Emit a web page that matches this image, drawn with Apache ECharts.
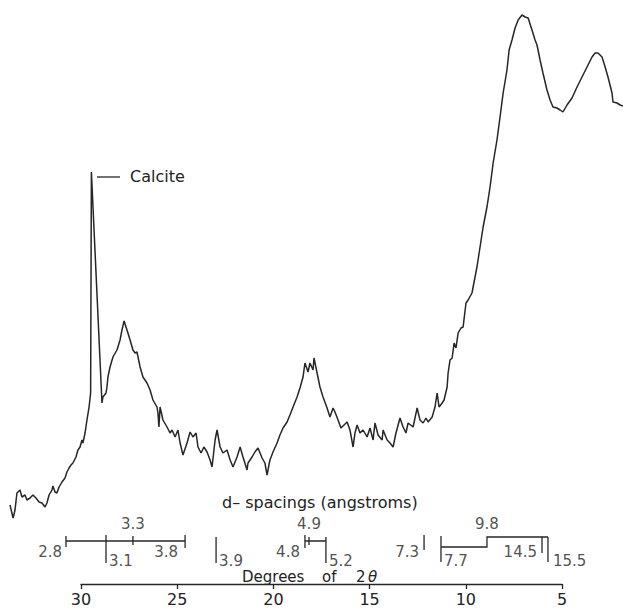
<!DOCTYPE html>
<html>
<head>
<meta charset="utf-8">
<script src="https://cdn.jsdelivr.net/npm/echarts@6/dist/echarts.min.js"></script>
<style>
  html, body { margin: 0; padding: 0; background: #fff; }
  #xrd { width: 623px; height: 608px; }
</style>
</head>
<body>
<div id="xrd"></div>
<script>
// diffractogram trace (degrees 2θ, relative intensity)
var twoTheta = [
    33.69, 33.53, 33.43, 33.33, 33.17, 33.07, 32.91, 32.81, 32.65, 32.50,
    32.34, 32.18, 32.03, 31.87, 31.77, 31.66, 31.51, 31.46, 31.35, 31.25,
    31.14, 30.99, 30.83, 30.73, 30.62, 30.52, 30.42, 30.26, 30.16, 30.05,
    29.95, 29.90, 29.79, 29.69, 29.58, 29.50, 29.46, 28.91, 28.86, 28.70,
    28.65, 28.60, 28.49, 28.34, 28.13, 27.97, 27.87, 27.76, 27.61, 27.45,
    27.30, 27.19, 27.09, 26.93, 26.78, 26.57, 26.41, 26.26, 26.05, 26.00,
    25.95, 25.89, 25.74, 25.53, 25.37, 25.27, 25.11, 24.96, 24.85, 24.70,
    24.49, 24.33, 24.18, 24.02, 23.92, 23.76, 23.61, 23.45, 23.29, 23.19,
    23.03, 22.93, 22.77, 22.62, 22.41, 22.25, 22.10, 21.89, 21.73, 21.58,
    21.37, 21.32, 21.11, 20.96, 20.80, 20.59, 20.44, 20.33, 20.18, 20.02,
    19.81, 19.66, 19.50, 19.29, 19.14, 18.98, 18.77, 18.62, 18.46, 18.36,
    18.20, 18.10, 17.94, 17.89, 17.73, 17.58, 17.42, 17.21, 17.06, 16.90,
    16.80, 16.64, 16.49, 16.33, 16.17, 16.02, 15.86, 15.76, 15.65, 15.50,
    15.34, 15.13, 14.98, 14.82, 14.72, 14.56, 14.35, 14.30, 14.09, 13.94,
    13.78, 13.63, 13.42, 13.26, 13.11, 13.00, 12.74, 12.53, 12.38, 12.22,
    12.07, 11.96, 11.75, 11.60, 11.49, 11.39, 11.23, 11.13, 10.97, 10.92,
    10.82, 10.71, 10.61, 10.51, 10.40, 10.25, 10.14, 9.99, 9.88, 9.68,
    9.62, 9.42, 9.26, 9.10, 8.90, 8.74, 8.58, 8.38, 8.22, 8.06,
    7.86, 7.75, 7.60, 7.44, 7.28, 7.08, 6.92, 6.76, 6.56, 6.40,
    6.30, 6.14, 5.99, 5.78, 5.62, 5.47, 5.26, 5.10, 4.95, 4.74,
    4.48, 4.22, 3.96, 3.70, 3.44, 3.28, 3.13, 2.92, 2.76, 2.61,
    2.40, 2.35, 2.14, 1.98, 1.83
];
var intensity = [
    95, 82, 90, 107, 110, 103, 105, 100, 102, 105,
    102, 98, 97, 93, 97, 105, 110, 114, 108, 107,
    113, 118, 122, 128, 132, 135, 137, 143, 150, 153,
    160, 157, 167, 180, 193, 207, 428, 197, 203, 207,
    213, 223, 233, 243, 250, 260, 270, 279, 270, 260,
    250, 247, 248, 233, 223, 217, 210, 200, 193, 187,
    173, 193, 180, 173, 167, 170, 163, 170, 157, 145,
    157, 168, 163, 167, 153, 147, 153, 148, 140, 133,
    160, 170, 153, 147, 150, 140, 133, 143, 153, 143,
    130, 137, 143, 148, 152, 142, 137, 125, 140, 148,
    157, 165, 172, 178, 185, 193, 203, 212, 223, 237,
    228, 237, 230, 242, 227, 213, 203, 192, 183, 192,
    188, 180, 172, 175, 178, 170, 153, 167, 175, 167,
    170, 163, 172, 160, 177, 165, 160, 170, 160, 157,
    153, 167, 182, 173, 167, 177, 173, 192, 180, 177,
    182, 178, 183, 193, 207, 193, 197, 200, 213, 227,
    240, 242, 257, 252, 267, 272, 273, 297, 300, 307,
    313, 333, 353, 373, 393, 413, 437, 460, 483, 507,
    530, 550, 560, 572, 580, 585, 583, 582, 570, 560,
    555, 540, 527, 510, 500, 493, 492, 490, 488, 495,
    502, 513, 523, 533, 543, 547, 547, 543, 533, 523,
    507, 498, 497, 495, 494
];

// d-spacing scale (angstroms) and where each sits in 2θ
var dSpacing = ['2.8', '3.1', '3.3', '3.8', '3.9', '4.8', '4.9', '5.2', '7.3', '7.7', '9.8', '14.5', '15.5'];
var dTheta = [30.78, 28.70, 27.30, 24.59, 22.98, 18.36, 18.15, 17.27, 12.17, 11.29, 8.90, 6.04, 5.73];

// degrees axis ticks
var degTicks = [30, 25, 20, 15, 10, 5];

var INK = '#262626';
var FONT = 'DejaVu Sans';

function at(d) {
    return dTheta[dSpacing.indexOf(d)];
}

// bracket strokes of the d-spacing scale (y in px below the bracket grid top)
var bracketLines = [
    [[at('2.8'), 21], [at('3.8'), 21]],
    [[at('2.8'), 16], [at('2.8'), 27]],
    [[at('3.1'), 15], [at('3.1'), 43]],
    [[at('3.3'), 16], [at('3.3'), 25]],
    [[at('3.8'), 15], [at('3.8'), 28]],
    [[at('3.9'), 17], [at('3.9'), 43]],
    [[at('4.8'), 15], [at('4.8'), 28]],
    [[at('4.9'), 17], [at('4.9'), 25]],
    [[at('4.8'), 21], [at('5.2'), 21]],
    [[at('5.2'), 17], [at('5.2'), 43]],
    [[at('7.3'), 15], [at('7.3'), 30]],
    [[at('7.7'), 16], [at('7.7'), 42]],
    [[at('7.7'), 27], [at('9.8'), 27], [at('9.8'), 17], [at('15.5'), 17]],
    [[at('14.5'), 17], [at('14.5'), 33]],
    [[at('15.5'), 17], [at('15.5'), 42]]
];

// where each d label sits relative to its stroke
var labelSide = ['left', 'right', 'top', 'left', 'right', 'left', 'top', 'right', 'left', 'right', 'top', 'left', 'right'];
var labelLevel = { left: 32, right: 41, top: 4 };
var labelGap = { '2.8': 4, '3.8': 7, '4.8': 5, '7.3': 5, '14.5': 5, '15.5': 5 };

var labelData = dSpacing.map(function (d, i) {
    var side = labelSide[i];
    return {
        value: [dTheta[i], labelLevel[side]],
        label: {
            show: true,
            formatter: d,
            position: side === 'top' ? 'inside' : side,
            distance: labelGap[d] || 3
        }
    };
});

var chart = echarts.init(document.getElementById('xrd'), null, { renderer: 'svg' });

var textFont = '16px "' + FONT + '"';
var axisNameFont = '15px "' + FONT + '"';

var option = {
    backgroundColor: '#fff',
    animation: false,
    grid: [
        { left: 0, right: 0, top: 0, height: 600 },
        { left: 81, right: 61, top: 583, height: 1 },
        { left: 0, right: 0, top: 520, height: 50 }
    ],
    xAxis: [
        { gridIndex: 0, type: 'value', min: 1.83, max: 34.21, inverse: true, show: false },
        {
            gridIndex: 1, type: 'value', min: 5, max: 30, interval: 5, inverse: true,
            axisLine: { lineStyle: { color: INK, width: 1.3 } },
            axisTick: { length: 5, lineStyle: { color: INK, width: 1.3 } },
            splitLine: { show: false },
            axisLabel: {
                color: '#222', fontSize: 16, fontFamily: FONT, margin: 7,
                customValues: degTicks
            }
        },
        { gridIndex: 2, type: 'value', min: 1.83, max: 34.21, inverse: true, show: false }
    ],
    yAxis: [
        { gridIndex: 0, type: 'value', min: 0, max: 600, show: false },
        { gridIndex: 1, type: 'value', min: 0, max: 1, show: false },
        { gridIndex: 2, type: 'value', min: 0, max: 50, inverse: true, show: false }
    ],
    graphic: [
        {
            type: 'line', shape: { x1: 97, y1: 177, x2: 120, y2: 177 },
            style: { stroke: INK, lineWidth: 1.3 }
        },
        {
            type: 'text', left: 130, top: 168,
            style: { text: 'Calcite', fill: '#222', font: textFont }
        },
        {
            type: 'text', left: 222, top: 494,
            style: { text: 'd– spacings (angstroms)', fill: '#222', font: textFont }
        },
        {
            type: 'text', left: 242, top: 569,
            style: { text: 'Degrees', fill: '#222', font: axisNameFont, lineHeight: 14 }
        },
        {
            type: 'text', left: 322, top: 569,
            style: { text: 'of', fill: '#222', font: axisNameFont, lineHeight: 14 }
        },
        {
            type: 'text', left: 356, top: 569,
            style: { text: '2', fill: '#222', font: axisNameFont, lineHeight: 14 }
        },
        {
            type: 'text', left: 368, top: 569,
            style: { text: 'θ', fill: '#222', font: 'italic ' + axisNameFont, lineHeight: 14 }
        }
    ],
    series: [
        {
            name: 'intensity',
            type: 'line',
            xAxisIndex: 0, yAxisIndex: 0,
            data: twoTheta.map(function (t, i) { return [t, intensity[i]]; }),
            showSymbol: false,
            lineStyle: { color: INK, width: 1.5 },
            silent: true
        },
        {
            name: 'd-spacing brackets',
            type: 'lines',
            coordinateSystem: 'cartesian2d',
            xAxisIndex: 2, yAxisIndex: 2,
            polyline: true,
            data: bracketLines.map(function (c) { return { coords: c }; }),
            lineStyle: { color: INK, width: 1.3, opacity: 1 },
            silent: true
        },
        {
            name: 'd-spacing labels',
            type: 'scatter',
            xAxisIndex: 2, yAxisIndex: 2,
            symbolSize: 0,
            data: labelData,
            label: { color: '#222', fontSize: 15, fontFamily: FONT, lineHeight: 14 },
            silent: true
        }
    ]
};

chart.setOption(option);

window.addEventListener('resize', function () {
    chart.resize();
});
</script>
</body>
</html>
